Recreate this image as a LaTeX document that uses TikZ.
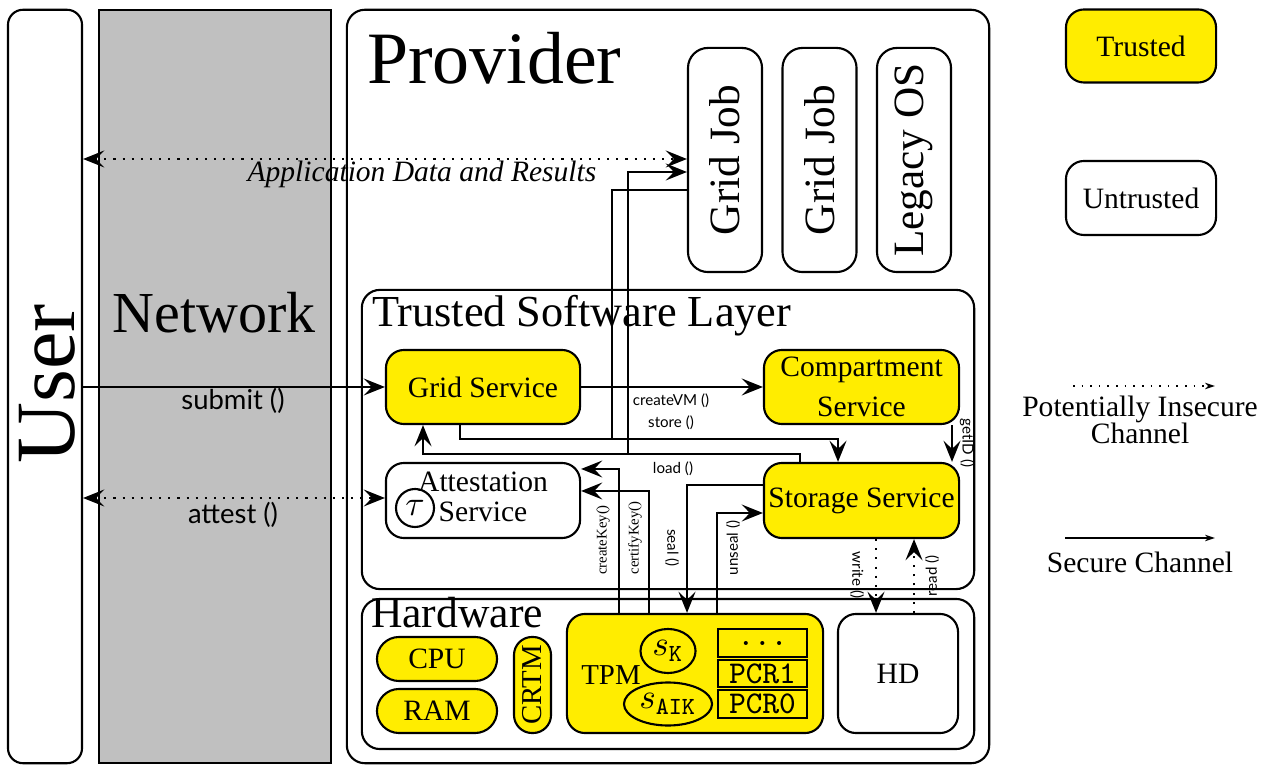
\documentclass[tikz,border=0pt]{standalone}
\usepackage{fontspec}
\setmainfont{Liberation Serif}
\setsansfont{Lato}
\usepackage{amsmath}
\usetikzlibrary{arrows.meta}
\usetikzlibrary{shapes.geometric}

\definecolor{tyellow}{RGB}{255,237,0}
\definecolor{netgray}{RGB}{192,192,192}
\newcommand{\fsz}[2]{\fontsize{#1}{#2}\selectfont}

\begin{document}
\begin{tikzpicture}[x=0.01cm, y=-0.01cm, line width=0.6pt,
    >={Stealth[length=6pt, width=4.8pt, inset=2.3pt]},
    frame/.style={draw, rounded corners=0.18cm, inner sep=0pt},
    trusted/.style={draw, fill=tyellow, rounded corners=0.18cm, inner sep=0pt, align=center, font=\fsz{8.4pt}{11pt}},
    untrusted/.style={draw, fill=white, rounded corners=0.18cm, inner sep=0pt, align=center, font=\fsz{8.4pt}{11pt}},
    pcr/.style={draw, line width=0.8pt, fill=tyellow, inner sep=0pt, minimum width=0.89cm, font=\ttfamily\fsz{9pt}{9pt}},
    title/.style={anchor=base west, inner sep=0pt},
    call/.style={font=\sffamily\fsz{4.3pt}{5pt}, inner sep=0pt},
    callrm/.style={font=\fsz{4.2pt}{5pt}, inner sep=0pt},
    chan/.style={font=\sffamily\fsz{7.8pt}{8pt}, inner sep=0pt},
    legarrow/.style={line width=0.45pt, -{Stealth[length=2.8pt, width=1.8pt, inset=0.8pt]}}]
    \useasboundingbox (0,0) rectangle (1271,765);

    %% outer columns
    \node[draw, rounded corners=0.15cm, minimum width=0.74cm, minimum height=7.53cm] (user) at (45,386.5) {};
    \node[rotate=90, font=\fsz{24pt}{24pt}] (usertxt) at (47,384) {User};
    \node[draw, fill=netgray, inner sep=0pt, minimum width=2.32cm, minimum height=7.53cm] (net) at (215,386.5) {};
    \node[font=\fsz{16.5pt}{17pt}] (nettxt) at (214,313) {Network};

    %% provider
    \node[frame, minimum width=6.42cm, minimum height=7.53cm] (prov) at (668,386.5) {};
    \node[title, font=\fsz{21pt}{21pt}] (provtxt) at (366,84) {Provider};
    \node[untrusted, rounded corners=0.2cm, minimum width=0.74cm, minimum height=2.24cm] (job1) at (725,160) {};
    \node[untrusted, rounded corners=0.2cm, minimum width=0.74cm, minimum height=2.24cm] (job2) at (819.5,160) {};
    \node[untrusted, rounded corners=0.2cm, minimum width=0.74cm, minimum height=2.24cm] (legos) at (914,160) {};
    \node[rotate=90, font=\fsz{12.3pt}{12pt}] (job1txt) at (job1) {Grid Job};
    \node[rotate=90, font=\fsz{12.3pt}{12pt}] (job2txt) at (job2) {Grid Job};
    \node[rotate=90, font=\fsz{12.3pt}{12pt}] (legostxt) at (legos) {Legacy OS};

    %% trusted software layer
    \node[frame, minimum width=6.12cm, minimum height=2.99cm] (tsl) at (668,439.5) {};
    \node[title, font=\fsz{12.6pt}{13pt}] (tsltxt) at (371,327) {Trusted Software Layer};
    \node[trusted, minimum width=1.94cm, minimum height=0.74cm] (gsvc) at (483,387) {Grid Service};
    \node[trusted, minimum width=1.95cm, minimum height=0.74cm, font=\fsz{8.4pt}{11.4pt}] (csvc) at (861.5,387) {Compartment\\Service};
    \node[untrusted, minimum width=1.94cm, minimum height=0.75cm] (asvc) at (483,500.5) {};
    \node[align=center, font=\fsz{8.4pt}{8.6pt}, inner sep=0pt] (asvctxt) at (483,497) {Attestation\\Service};
    \node[draw, circle, inner sep=0pt, minimum size=0.38cm] (tau) at (415,508) {$\tau$};
    \node[trusted, minimum width=1.95cm, minimum height=0.75cm] (ssvc) at (861.5,500.5) {Storage Service};

    %% hardware
    \node[frame, minimum width=6.12cm, minimum height=1.5cm] (hw) at (668,674) {};
    \node[title, font=\fsz{12.4pt}{13pt}] (hwtxt) at (370,628) {Hardware};
    \node[trusted, rounded corners=0.22cm, minimum width=1.2cm, minimum height=0.44cm] (cpu) at (437,659) {CPU};
    \node[trusted, rounded corners=0.22cm, minimum width=1.2cm, minimum height=0.44cm] (ram) at (437,711) {RAM};
    \node[trusted, minimum width=0.37cm, minimum height=0.96cm] (crtm) at (532.5,685) {};
    \node[rotate=90, font=\fsz{8.2pt}{8pt}] (crtmtxt) at (crtm) {CRTM};
    \node[trusted, minimum width=2.56cm, minimum height=1.19cm] (tpm) at (695,673.5) {};
    \node[font=\fsz{8.2pt}{8pt}] (tpmtxt) at (611,675) {TPM};
    \node[draw, ellipse, inner sep=0pt, minimum width=0.55cm, minimum height=0.44cm] (sk) at (668,651) {$s_{\mathtt{K}}$};
    \node[draw, ellipse, inner sep=0pt, minimum width=0.88cm, minimum height=0.43cm] (saik) at (668,704) {$s_{\mathtt{AIK}}$};
    \node[pcr, minimum height=0.28cm] (pcrd) at (762.5,643) {...};
    \node[pcr, minimum height=0.27cm] (pcr1) at (762.5,673.5) {PCR1};
    \node[pcr, minimum height=0.28cm] (pcr0) at (762.5,704) {PCR0};
    \node[untrusted, minimum width=1.2cm, minimum height=1.19cm] (hd) at (898,673.5) {HD};

    %% legend
    \node[trusted, minimum width=1.5cm, minimum height=0.73cm] (legtr) at (1141,46) {Trusted};
    \node[untrusted, minimum width=1.5cm, minimum height=0.74cm] (legun) at (1141,198) {Untrusted};
    \coordinate (insa) at (1073,386);
    \coordinate (insb) at (1215,386);
    \coordinate (seca) at (1065,538);
    \coordinate (secb) at (1215,538);
    \draw[legarrow, dotted] (insa) -- (insb);
    \draw[legarrow] (seca) -- (secb);
    \node[align=center, font=\fsz{8.4pt}{7.7pt}] (instxt) at (1140,420) {Potentially Insecure\\Channel};
    \node[font=\fsz{8.4pt}{8pt}] (sectxt) at (1140,562) {Secure Channel};

    %% user channels
    \draw[<->, dotted] (user.east |- 0,159) -- (job1.west |- 0,159);
    \node[font=\itshape\fsz{8.4pt}{8pt}] (apptxt) at (422,174) {Application Data and Results};
    \draw[->] (user.east |- gsvc.west) -- (gsvc.west);
    \node[chan] (submittxt) at (233,401) {submit ()};
    \draw[<->, dotted] (user.east |- 0,498) -- (asvc.west |- 0,498);
    \node[chan] (attesttxt) at (233,515) {attest ()};

    %% software layer calls
    \draw[->] (gsvc.east) -- (csvc.west);
    \node[call] (vmtxt) at (671,401) {createVM ()};
    \draw[->] (gsvc.south -| 460,0) |- (838,439) -- (ssvc.north -| 838,0);
    \draw (job1.west |- 0,190) -| (612,439);
    \node[call] (storetxt) at (671,423) {store ()};
    \draw[->] (ssvc.north -| 800,0) |- (423,454) -- (gsvc.south -| 423,0);
    \draw[->] (628,454) |- (job1.west |- 0,172);
    \node[call] (loadtxt) at (673,469) {load ()};
    \draw[->] (csvc.south -| 952,0) -- (ssvc.north -| 952,0);
    \node[call, rotate=-90] (idtxt) at (967,443) {getID ()};

    %% tpm calls
    \draw[->] (tpm.north -| 619,0) |- (asvc.east |- 0,469);
    \node[callrm, rotate=90] (cktxt) at (603,540) {createKey()};
    \draw[->] (tpm.north -| 649,0) |- (asvc.east |- 0,491);
    \node[callrm, rotate=90] (cftxt) at (635,538) {certifyKey()};
    \draw[->] (ssvc.west |- 0,485) -| (tpm.north -| 687,0);
    \node[call, rotate=-90] (sealtxt) at (672,548) {seal ()};
    \draw[->] (tpm.north -| 717,0) |- (ssvc.west |- 0,513);
    \node[call, rotate=90] (unsealtxt) at (733,548) {unseal ()};

    %% disk
    \draw[->, dotted] (ssvc.south -| 876,0) -- (hd.north -| 876,0);
    \node[call, rotate=-90] (wrtxt) at (857,575) {write ()};
    \draw[->, dotted] (hd.north -| 914,0) -- (ssvc.south -| 914,0);
    \node[call, rotate=90] (rdtxt) at (932,576) {read ()};
\end{tikzpicture}
\end{document}
